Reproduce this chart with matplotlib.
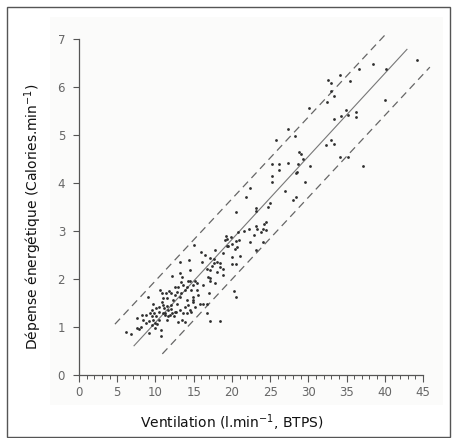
import matplotlib
matplotlib.use("Agg")
import matplotlib.pyplot as plt
from matplotlib.patches import Rectangle
from matplotlib.ticker import MultipleLocator

# ---- data ----
pts_x = [44.2, 40.2, 38.4, 36.6, 34.2, 35.5, 32.6, 32.9, 32.9, 33.4, 32.5, 39.97, 30.1, 34.9, 36.2, 36.2,
         34.3, 35.2, 33.4, 33.0, 33.3, 32.3, 34.2, 35.2, 37.2, 27.4, 28.2, 25.8, 28.8, 29.1, 29.3, 28.7,
         30.2, 25.3, 26.1, 27.4, 26.1, 28.5, 28.4, 25.3, 25.3, 29.5, 26.9, 28.0, 28.4, 22.4, 21.8, 25.0,
         24.7, 23.1, 23.1, 20.5, 24.5, 24.2, 23.1, 23.3, 22.2, 21.6, 20.8, 24.1, 24.4, 23.8, 22.9, 20.9,
         22.4, 24.1, 20.5, 19.2, 19.3, 19.1, 19.9, 20.0, 19.5, 19.3, 20.4, 20.7, 23.1, 21.0, 20.0, 17.8,
         18.9, 15.1, 16.0, 16.5, 17.1, 17.6, 18.0, 18.5, 17.6, 17.4, 16.8, 18.8, 20.0, 20.6, 18.4, 16.1,
         17.2, 18.0, 18.8, 16.9, 17.1, 17.1, 17.8, 16.2, 17.0, 20.3, 20.5, 16.2, 16.7, 16.7, 17.2, 18.4,
         6.2, 6.8, 7.6, 7.6, 7.9, 8.1, 8.7, 9.0, 8.8, 9.1, 9.5, 9.3, 9.6, 9.7, 9.9, 10.1, 10.5, 10.5,
         10.2, 10.7, 10.7, 10.8, 11.0, 11.2, 11.5, 11.7, 11.0, 10.6, 11.9, 12.0, 12.1, 11.5, 12.3, 12.4,
         12.5, 12.8, 12.9, 12.2, 13.0, 13.2, 13.2, 13.4, 13.6, 13.5, 13.9, 13.9, 14.1, 14.3, 14.4, 14.5,
         13.2, 14.7, 14.9, 14.9, 15.2, 14.9, 15.2, 14.5, 14.1, 15.8, 14.7, 13.2, 12.7, 9.7, 10.1,
         11.0, 11.3, 11.7, 11.1, 11.5, 12.0, 12.2, 10.8, 11.4, 11.8, 12.5, 12.8, 13.4, 13.6, 14.1, 14.5,
         13.5, 12.5, 9.5, 9.8, 9.2, 10.4, 9.9, 8.4, 8.3, 15.4, 15.5, 15.6, 13.9, 14.2, 14.9]
pts_y = [6.57, 6.39, 6.48, 6.39, 6.25, 6.14, 6.15, 6.08, 5.93, 5.81, 5.70, 5.73, 5.56, 5.53, 5.49, 5.39,
         5.41, 5.42, 5.34, 4.90, 4.82, 4.79, 4.55, 4.54, 4.36, 5.12, 4.98, 4.90, 4.66, 4.61, 4.51, 4.41,
         4.36, 4.40, 4.41, 4.43, 4.27, 4.24, 4.21, 4.15, 4.03, 4.02, 3.83, 3.65, 3.72, 3.89, 3.71, 3.58,
         3.50, 3.48, 3.41, 3.39, 3.20, 3.15, 3.11, 3.05, 3.05, 3.01, 2.99, 3.04, 3.02, 2.99, 2.91, 2.82,
         2.77, 2.78, 2.80, 2.90, 2.84, 2.82, 2.87, 2.73, 2.68, 2.70, 2.63, 2.66, 2.61, 2.48, 2.47, 2.61,
         2.54, 2.71, 2.56, 2.50, 2.45, 2.41, 2.36, 2.33, 2.33, 2.27, 2.22, 2.22, 2.31, 2.31, 2.26, 2.36,
         2.19, 2.15, 2.09, 2.05, 2.02, 1.96, 1.91, 1.87, 1.70, 1.76, 1.63, 1.48, 1.48, 1.30, 1.13, 1.13,
         0.89, 0.85, 1.18, 0.99, 0.95, 1.01, 1.25, 1.62, 1.08, 0.87, 1.04, 1.29, 1.36, 1.15, 0.97, 1.22,
         1.42, 1.32, 1.06, 0.94, 0.81, 1.72, 1.60, 1.29, 1.15, 1.36, 1.46, 1.78, 1.25, 1.70, 1.46, 1.60,
         1.56, 1.22, 1.32, 1.49, 1.11, 2.06, 1.84, 1.63, 2.12, 1.93, 1.29, 1.15, 1.11, 1.77, 1.56, 1.95,
         2.40, 2.19, 2.36, 1.77, 1.63, 1.56, 1.95, 1.88, 1.42, 1.36, 1.29, 1.49, 1.31, 1.36, 1.32, 1.49,
         1.39, 1.29, 1.25, 1.23, 1.39, 1.44, 1.37, 1.29, 1.53, 1.70, 1.76, 1.67, 1.74, 1.70, 1.88, 1.83,
         1.95, 2.05, 1.84, 1.22, 1.29, 1.13, 1.15, 1.09, 1.15, 1.25, 1.77, 1.91, 1.67, 1.42, 1.46, 1.53]

reg_x = [7.2, 42.9]
reg_y = [0.61, 6.79]
upper_x = [4.7, 40.2]
upper_y = [1.06, 7.12]
lower_x = [10.9, 45.9]
lower_y = [0.44, 6.42]

x_ticks = [0, 5, 10, 15, 20, 25, 30, 35, 40, 45]
y_ticks = [0, 1, 2, 3, 4, 5, 6, 7]
x_label = "Ventilation (l.min$^{-1}$, BTPS)"
y_label = "Dépense énergétique (Calories.min$^{-1}$)"

W, H = 457, 438
fig = plt.figure(figsize=(W / 100, H / 100), dpi=100)
fig.patch.set_facecolor("white")

# faint scan background and outer frame
bg = Rectangle((50 / W, 1 - 405 / H), 393 / W, 388 / H, transform=fig.transFigure,
               facecolor="#fbfbfa", edgecolor="none", zorder=-10)
fig.add_artist(bg)
frame = Rectangle((7 / W, 1 - 437 / H), 443 / W, 430 / H, transform=fig.transFigure,
                  facecolor="none", edgecolor="#555555", linewidth=1.0, zorder=5)
fig.add_artist(frame)

ax = fig.add_axes([79 / W, 1 - 375 / H, 344 / W, 335.7 / H])
ax.set_zorder(1)
ax.set_facecolor("none")
ax.set_xlim(0, 45)
ax.set_ylim(0, 7)

ax.scatter(pts_x, pts_y, s=4, color="#2e2e2e", linewidths=0, zorder=3)
ax.plot(reg_x, reg_y, color="#777777", lw=0.8, clip_on=False, zorder=2)
ax.plot(upper_x, upper_y, color="#666666", lw=0.9, dashes=(6, 4), clip_on=False, zorder=2)
ax.plot(lower_x, lower_y, color="#666666", lw=0.9, dashes=(6, 4), clip_on=False, zorder=2)

for s in ["top", "right"]:
    ax.spines[s].set_visible(False)
for s in ["left", "bottom"]:
    ax.spines[s].set_color("#555555")
    ax.spines[s].set_linewidth(0.9)

ax.set_xticks(x_ticks)
ax.set_yticks(y_ticks)
ax.xaxis.set_minor_locator(MultipleLocator(1))
ax.tick_params(axis="x", which="major", direction="out", length=5, width=0.8, color="#555555",
               labelsize=8.5, labelcolor="#666666", pad=3)
ax.tick_params(axis="x", which="minor", direction="out", length=3, width=0.7, color="#555555")
ax.tick_params(axis="y", which="major", direction="out", length=4, width=0.8, color="#555555",
               labelsize=8.5, labelcolor="#666666", pad=6)

fig.text(232 / W, 1 - 423 / H, x_label, ha="center", va="center", fontsize=10, color="#111111")
fig.text(33 / W, 1 - 217 / H, y_label, ha="center", va="center", rotation=90, fontsize=10,
         color="#111111")

fig.savefig("out.png", dpi=100)
